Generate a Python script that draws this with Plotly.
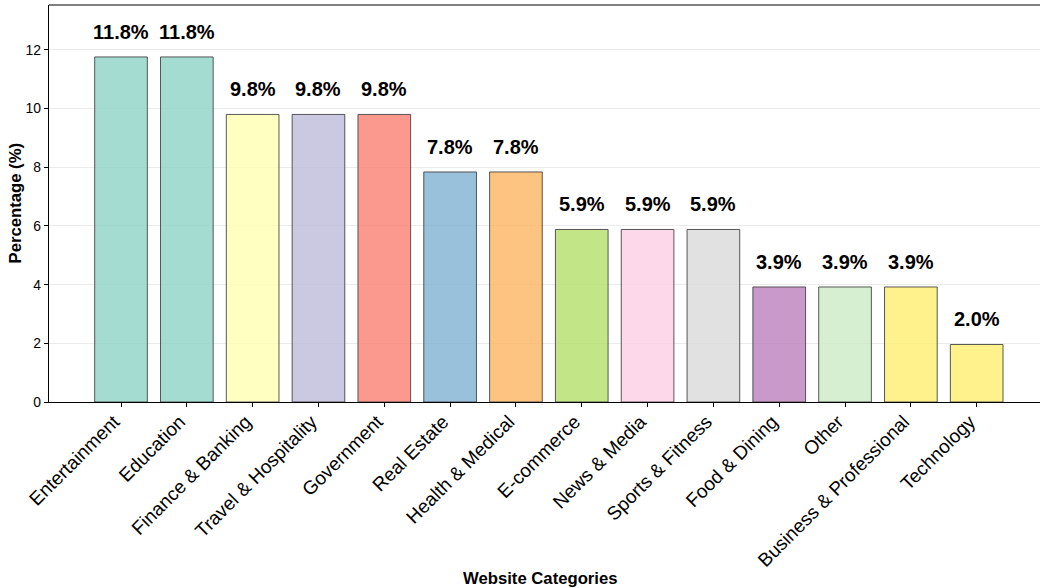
import plotly.graph_objects as go

categories = ["Entertainment", "Education", "Finance & Banking", "Travel & Hospitality",
              "Government", "Real Estate", "Health & Medical", "E-commerce",
              "News & Media", "Sports & Fitness", "Food & Dining", "Other",
              "Business & Professional", "Technology"]
percentages = [11.76, 11.76, 9.80, 9.80, 9.80, 7.84, 7.84, 5.88, 5.88, 5.88, 3.92, 3.92, 3.92, 1.96]
labels = ["11.8%", "11.8%", "9.8%", "9.8%", "9.8%", "7.8%", "7.8%", "5.9%", "5.9%", "5.9%",
          "3.9%", "3.9%", "3.9%", "2.0%"]
bar_colors = ["#8dd3c7", "#8dd3c7", "#ffffb3", "#bebada", "#fb8072", "#80b1d3", "#fdb462",
              "#b3de69", "#fccde5", "#d9d9d9", "#bc80bd", "#ccebc5", "#ffed6f", "#ffed6f"]


def with_alpha(hx, a=0.8):
    r, g, b = int(hx[1:3], 16), int(hx[3:5], 16), int(hx[5:7], 16)
    return f"rgba({r},{g},{b},{a})"


FONT = "Liberation Sans, Arial, sans-serif"
xpos = list(range(len(categories)))

fig = go.Figure()
fig.add_trace(go.Bar(
    x=xpos, y=percentages, width=0.8,
    marker=dict(color=[with_alpha(c) for c in bar_colors],
                line=dict(color="rgba(60,60,60,0.85)", width=1)),
    hoverinfo="skip",
))

for xi, v, t in zip(xpos, percentages, labels):
    fig.add_annotation(x=xi, y=v, text=f"<b>{t}</b>", showarrow=False,
                       yanchor="bottom", yshift=12,
                       font=dict(family=FONT, size=20, color="black"))

fig.update_layout(
    width=1040, height=588,
    margin=dict(l=49, r=0, t=5, b=186),
    plot_bgcolor="white", paper_bgcolor="white",
    showlegend=False,
    font=dict(family=FONT, color="black"),
    bargap=0.2,
)

fig.update_xaxes(
    range=[-1.094, 13.962],
    tickmode="array", tickvals=xpos, ticktext=categories,
    tickangle=-45, tickfont=dict(size=19, family=FONT, color="black"),
    ticks="outside", ticklen=4, tickcolor="black",
    ticklabelshift=-7, ticklabelstandoff=-4,
    showline=True, linecolor="black", linewidth=1.3,
    showgrid=False, zeroline=False,
)
fig.update_yaxes(
    range=[0, 13.53],
    tickmode="array", tickvals=[0, 2, 4, 6, 8, 10, 12],
    tickfont=dict(size=13.9, family=FONT, color="black"),
    ticks="outside", ticklen=4, tickcolor="black",
    showline=True, linecolor="black", linewidth=1.3,
    showgrid=True, gridcolor="#ebebeb", gridwidth=1,
    zeroline=False,
)

# axis titles placed as annotations (pixel-matched positions)
fig.add_annotation(xref="paper", yref="paper", x=(540 - 49) / 991, y=-(578 - 402) / 397,
                   text="<b>Website Categories</b>", showarrow=False,
                   xanchor="center", yanchor="middle",
                   font=dict(family=FONT, size=16.7, color="black"))
fig.add_annotation(xref="paper", yref="paper", x=(15 - 49) / 991, y=0.5,
                   text="<b>Percentage (%)</b>", showarrow=False, textangle=-90,
                   xanchor="center", yanchor="middle",
                   font=dict(family=FONT, size=16.7, color="black"))

# top frame line (gray), no right border (cropped in reference)
fig.add_shape(type="line", xref="paper", yref="paper", x0=0, x1=1, y0=1, y1=1,
              line=dict(color="#555555", width=1.5))

fig.write_html("out.html")
